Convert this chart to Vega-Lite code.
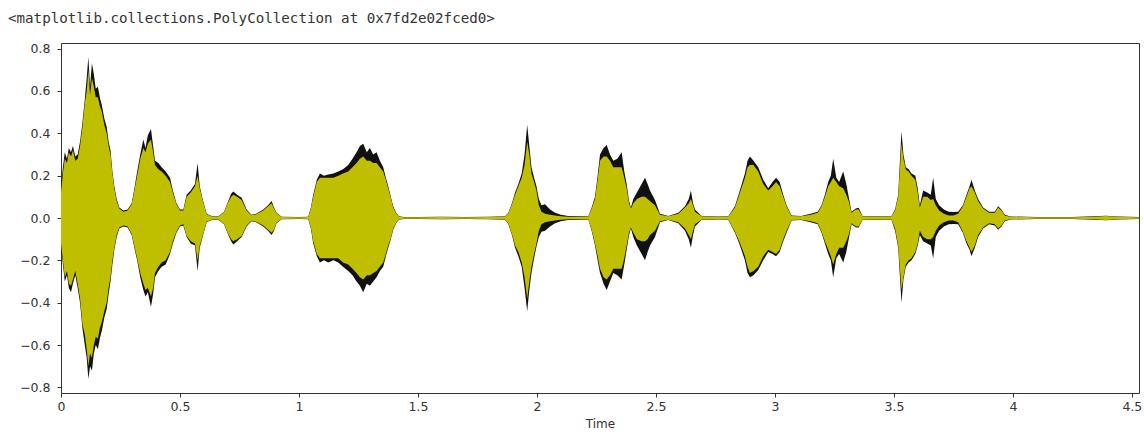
{
  "$schema": "https://vega.github.io/schema/vega-lite/v6.json",
  "autosize": {"type": "none"},
  "padding": {"left": 61, "top": 43, "right": 5, "bottom": 39},
  "width": 1078,
  "height": 350,
  "background": "white",
  "config": {
    "view": {"stroke": "#333333", "strokeWidth": 1},
    "axis": {
      "domain": false,
      "grid": false,
      "tickColor": "#333333",
      "tickSize": 4,
      "labelFont": "DejaVu Sans",
      "labelFontSize": 12.5,
      "labelColor": "#333333",
      "titleFont": "DejaVu Sans",
      "titleFontSize": 12,
      "titleFontWeight": "normal",
      "titleColor": "#333333"
    }
  },
  "title": {
    "text": "<matplotlib.collections.PolyCollection at 0x7fd2e02fced0>",
    "anchor": "start",
    "frame": "group",
    "font": "DejaVu Sans Mono",
    "fontSize": 14.2,
    "fontWeight": "normal",
    "color": "#333333",
    "baseline": "alphabetic",
    "dx": -53,
    "offset": 5
  },
  "data": {
    "values": [
      {"t": 0.000, "top": 0.15, "bot": -0.14, "ytop": 0.12, "ybot": -0.12},
      {"t": 0.008, "top": 0.24, "bot": -0.22, "ytop": 0.21, "ybot": -0.20},
      {"t": 0.016, "top": 0.31, "bot": -0.30, "ytop": 0.28, "ybot": -0.28},
      {"t": 0.025, "top": 0.28, "bot": -0.27, "ytop": 0.26, "ybot": -0.25},
      {"t": 0.033, "top": 0.33, "bot": -0.33, "ytop": 0.31, "ybot": -0.31},
      {"t": 0.042, "top": 0.31, "bot": -0.35, "ytop": 0.29, "ybot": -0.32},
      {"t": 0.050, "top": 0.34, "bot": -0.31, "ytop": 0.32, "ybot": -0.29},
      {"t": 0.060, "top": 0.29, "bot": -0.27, "ytop": 0.27, "ybot": -0.25},
      {"t": 0.070, "top": 0.30, "bot": -0.33, "ytop": 0.28, "ybot": -0.31},
      {"t": 0.080, "top": 0.36, "bot": -0.40, "ytop": 0.34, "ybot": -0.38},
      {"t": 0.090, "top": 0.45, "bot": -0.52, "ytop": 0.43, "ybot": -0.50},
      {"t": 0.100, "top": 0.56, "bot": -0.60, "ytop": 0.54, "ybot": -0.55},
      {"t": 0.108, "top": 0.66, "bot": -0.66, "ytop": 0.60, "ybot": -0.62},
      {"t": 0.115, "top": 0.76, "bot": -0.76, "ytop": 0.70, "ybot": -0.70},
      {"t": 0.122, "top": 0.62, "bot": -0.70, "ytop": 0.58, "ybot": -0.64},
      {"t": 0.130, "top": 0.73, "bot": -0.72, "ytop": 0.66, "ybot": -0.66},
      {"t": 0.138, "top": 0.68, "bot": -0.64, "ytop": 0.62, "ybot": -0.60},
      {"t": 0.146, "top": 0.61, "bot": -0.60, "ytop": 0.57, "ybot": -0.56},
      {"t": 0.155, "top": 0.62, "bot": -0.62, "ytop": 0.57, "ybot": -0.57},
      {"t": 0.163, "top": 0.57, "bot": -0.57, "ytop": 0.53, "ybot": -0.52},
      {"t": 0.172, "top": 0.53, "bot": -0.53, "ytop": 0.50, "ybot": -0.49},
      {"t": 0.182, "top": 0.47, "bot": -0.47, "ytop": 0.44, "ybot": -0.44},
      {"t": 0.192, "top": 0.43, "bot": -0.43, "ytop": 0.40, "ybot": -0.40},
      {"t": 0.200, "top": 0.36, "bot": -0.36, "ytop": 0.34, "ybot": -0.33},
      {"t": 0.208, "top": 0.32, "bot": -0.30, "ytop": 0.30, "ybot": -0.28},
      {"t": 0.216, "top": 0.22, "bot": -0.22, "ytop": 0.21, "ybot": -0.20},
      {"t": 0.224, "top": 0.15, "bot": -0.15, "ytop": 0.14, "ybot": -0.14},
      {"t": 0.234, "top": 0.09, "bot": -0.09, "ytop": 0.08, "ybot": -0.08},
      {"t": 0.245, "top": 0.05, "bot": -0.05, "ytop": 0.045, "ybot": -0.045},
      {"t": 0.262, "top": 0.035, "bot": -0.04, "ytop": 0.03, "ybot": -0.035},
      {"t": 0.280, "top": 0.04, "bot": -0.045, "ytop": 0.035, "ybot": -0.04},
      {"t": 0.297, "top": 0.07, "bot": -0.08, "ytop": 0.065, "ybot": -0.075},
      {"t": 0.310, "top": 0.15, "bot": -0.15, "ytop": 0.14, "ybot": -0.14},
      {"t": 0.320, "top": 0.22, "bot": -0.20, "ytop": 0.20, "ybot": -0.19},
      {"t": 0.333, "top": 0.30, "bot": -0.28, "ytop": 0.28, "ybot": -0.26},
      {"t": 0.346, "top": 0.37, "bot": -0.34, "ytop": 0.33, "ybot": -0.31},
      {"t": 0.355, "top": 0.33, "bot": -0.37, "ytop": 0.31, "ybot": -0.34},
      {"t": 0.365, "top": 0.39, "bot": -0.35, "ytop": 0.35, "ybot": -0.33},
      {"t": 0.378, "top": 0.42, "bot": -0.42, "ytop": 0.37, "ybot": -0.37},
      {"t": 0.387, "top": 0.34, "bot": -0.36, "ytop": 0.31, "ybot": -0.33},
      {"t": 0.395, "top": 0.27, "bot": -0.28, "ytop": 0.25, "ybot": -0.26},
      {"t": 0.409, "top": 0.26, "bot": -0.25, "ytop": 0.23, "ybot": -0.23},
      {"t": 0.423, "top": 0.24, "bot": -0.23, "ytop": 0.22, "ybot": -0.21},
      {"t": 0.440, "top": 0.22, "bot": -0.22, "ytop": 0.20, "ybot": -0.20},
      {"t": 0.458, "top": 0.19, "bot": -0.17, "ytop": 0.17, "ybot": -0.16},
      {"t": 0.470, "top": 0.13, "bot": -0.12, "ytop": 0.12, "ybot": -0.11},
      {"t": 0.485, "top": 0.07, "bot": -0.07, "ytop": 0.065, "ybot": -0.065},
      {"t": 0.500, "top": 0.04, "bot": -0.04, "ytop": 0.035, "ybot": -0.035},
      {"t": 0.514, "top": 0.04, "bot": -0.035, "ytop": 0.035, "ybot": -0.03},
      {"t": 0.528, "top": 0.11, "bot": -0.09, "ytop": 0.10, "ybot": -0.085},
      {"t": 0.545, "top": 0.13, "bot": -0.12, "ytop": 0.12, "ybot": -0.11},
      {"t": 0.563, "top": 0.16, "bot": -0.13, "ytop": 0.15, "ybot": -0.12},
      {"t": 0.574, "top": 0.26, "bot": -0.25, "ytop": 0.20, "ybot": -0.20},
      {"t": 0.583, "top": 0.15, "bot": -0.14, "ytop": 0.14, "ybot": -0.13},
      {"t": 0.595, "top": 0.09, "bot": -0.09, "ytop": 0.085, "ybot": -0.085},
      {"t": 0.612, "top": 0.02, "bot": -0.02, "ytop": 0.018, "ybot": -0.018},
      {"t": 0.635, "top": 0.008, "bot": -0.008, "ytop": 0.007, "ybot": -0.007},
      {"t": 0.661, "top": 0.008, "bot": -0.008, "ytop": 0.007, "ybot": -0.007},
      {"t": 0.685, "top": 0.03, "bot": -0.03, "ytop": 0.028, "ybot": -0.028},
      {"t": 0.703, "top": 0.08, "bot": -0.08, "ytop": 0.075, "ybot": -0.075},
      {"t": 0.715, "top": 0.115, "bot": -0.11, "ytop": 0.10, "ybot": -0.10},
      {"t": 0.724, "top": 0.125, "bot": -0.125, "ytop": 0.11, "ybot": -0.11},
      {"t": 0.740, "top": 0.11, "bot": -0.11, "ytop": 0.10, "ybot": -0.10},
      {"t": 0.759, "top": 0.095, "bot": -0.09, "ytop": 0.085, "ybot": -0.085},
      {"t": 0.780, "top": 0.04, "bot": -0.04, "ytop": 0.035, "ybot": -0.035},
      {"t": 0.800, "top": 0.015, "bot": -0.015, "ytop": 0.013, "ybot": -0.013},
      {"t": 0.820, "top": 0.02, "bot": -0.02, "ytop": 0.018, "ybot": -0.018},
      {"t": 0.850, "top": 0.04, "bot": -0.04, "ytop": 0.035, "ybot": -0.035},
      {"t": 0.870, "top": 0.06, "bot": -0.06, "ytop": 0.055, "ybot": -0.055},
      {"t": 0.885, "top": 0.08, "bot": -0.08, "ytop": 0.07, "ybot": -0.07},
      {"t": 0.895, "top": 0.05, "bot": -0.06, "ytop": 0.045, "ybot": -0.055},
      {"t": 0.906, "top": 0.025, "bot": -0.025, "ytop": 0.022, "ybot": -0.022},
      {"t": 0.927, "top": 0.006, "bot": -0.006, "ytop": 0.005, "ybot": -0.005},
      {"t": 1.000, "top": 0.005, "bot": -0.005, "ytop": 0.004, "ybot": -0.004},
      {"t": 1.039, "top": 0.006, "bot": -0.006, "ytop": 0.005, "ybot": -0.005},
      {"t": 1.050, "top": 0.05, "bot": -0.05, "ytop": 0.045, "ybot": -0.045},
      {"t": 1.060, "top": 0.11, "bot": -0.12, "ytop": 0.10, "ybot": -0.11},
      {"t": 1.075, "top": 0.18, "bot": -0.18, "ytop": 0.17, "ybot": -0.17},
      {"t": 1.088, "top": 0.21, "bot": -0.21, "ytop": 0.19, "ybot": -0.19},
      {"t": 1.105, "top": 0.20, "bot": -0.20, "ytop": 0.19, "ybot": -0.19},
      {"t": 1.123, "top": 0.205, "bot": -0.21, "ytop": 0.19, "ybot": -0.19},
      {"t": 1.145, "top": 0.21, "bot": -0.20, "ytop": 0.19, "ybot": -0.19},
      {"t": 1.165, "top": 0.22, "bot": -0.21, "ytop": 0.20, "ybot": -0.19},
      {"t": 1.185, "top": 0.23, "bot": -0.23, "ytop": 0.21, "ybot": -0.21},
      {"t": 1.207, "top": 0.25, "bot": -0.25, "ytop": 0.22, "ybot": -0.22},
      {"t": 1.225, "top": 0.28, "bot": -0.27, "ytop": 0.24, "ybot": -0.24},
      {"t": 1.242, "top": 0.31, "bot": -0.30, "ytop": 0.26, "ybot": -0.26},
      {"t": 1.256, "top": 0.34, "bot": -0.32, "ytop": 0.28, "ybot": -0.28},
      {"t": 1.270, "top": 0.35, "bot": -0.35, "ytop": 0.29, "ybot": -0.29},
      {"t": 1.285, "top": 0.31, "bot": -0.31, "ytop": 0.27, "ybot": -0.27},
      {"t": 1.298, "top": 0.33, "bot": -0.32, "ytop": 0.27, "ybot": -0.27},
      {"t": 1.312, "top": 0.30, "bot": -0.30, "ytop": 0.26, "ybot": -0.26},
      {"t": 1.326, "top": 0.31, "bot": -0.28, "ytop": 0.26, "ybot": -0.25},
      {"t": 1.340, "top": 0.27, "bot": -0.25, "ytop": 0.24, "ybot": -0.23},
      {"t": 1.354, "top": 0.24, "bot": -0.23, "ytop": 0.22, "ybot": -0.21},
      {"t": 1.365, "top": 0.19, "bot": -0.18, "ytop": 0.18, "ybot": -0.17},
      {"t": 1.375, "top": 0.15, "bot": -0.14, "ytop": 0.14, "ybot": -0.13},
      {"t": 1.386, "top": 0.10, "bot": -0.10, "ytop": 0.095, "ybot": -0.095},
      {"t": 1.396, "top": 0.055, "bot": -0.055, "ytop": 0.05, "ybot": -0.05},
      {"t": 1.408, "top": 0.025, "bot": -0.025, "ytop": 0.022, "ybot": -0.022},
      {"t": 1.420, "top": 0.008, "bot": -0.008, "ytop": 0.007, "ybot": -0.007},
      {"t": 1.440, "top": 0.005, "bot": -0.005, "ytop": 0.004, "ybot": -0.004},
      {"t": 1.500, "top": 0.005, "bot": -0.005, "ytop": 0.004, "ybot": -0.004},
      {"t": 1.600, "top": 0.006, "bot": -0.006, "ytop": 0.005, "ybot": -0.005},
      {"t": 1.700, "top": 0.005, "bot": -0.005, "ytop": 0.004, "ybot": -0.004},
      {"t": 1.800, "top": 0.006, "bot": -0.006, "ytop": 0.005, "ybot": -0.005},
      {"t": 1.866, "top": 0.008, "bot": -0.008, "ytop": 0.007, "ybot": -0.007},
      {"t": 1.880, "top": 0.025, "bot": -0.03, "ytop": 0.022, "ybot": -0.027},
      {"t": 1.895, "top": 0.07, "bot": -0.08, "ytop": 0.065, "ybot": -0.075},
      {"t": 1.908, "top": 0.12, "bot": -0.14, "ytop": 0.11, "ybot": -0.13},
      {"t": 1.922, "top": 0.16, "bot": -0.18, "ytop": 0.15, "ybot": -0.16},
      {"t": 1.936, "top": 0.21, "bot": -0.23, "ytop": 0.19, "ybot": -0.21},
      {"t": 1.948, "top": 0.30, "bot": -0.33, "ytop": 0.25, "ybot": -0.28},
      {"t": 1.959, "top": 0.44, "bot": -0.44, "ytop": 0.36, "ybot": -0.38},
      {"t": 1.968, "top": 0.34, "bot": -0.34, "ytop": 0.30, "ybot": -0.30},
      {"t": 1.977, "top": 0.24, "bot": -0.26, "ytop": 0.21, "ybot": -0.23},
      {"t": 1.988, "top": 0.19, "bot": -0.19, "ytop": 0.17, "ybot": -0.17},
      {"t": 1.998, "top": 0.15, "bot": -0.135, "ytop": 0.13, "ybot": -0.12},
      {"t": 2.008, "top": 0.09, "bot": -0.09, "ytop": 0.06, "ybot": -0.06},
      {"t": 2.019, "top": 0.06, "bot": -0.065, "ytop": 0.03, "ybot": -0.03},
      {"t": 2.034, "top": 0.065, "bot": -0.06, "ytop": 0.02, "ybot": -0.02},
      {"t": 2.055, "top": 0.04, "bot": -0.04, "ytop": 0.015, "ybot": -0.015},
      {"t": 2.076, "top": 0.025, "bot": -0.025, "ytop": 0.012, "ybot": -0.012},
      {"t": 2.100, "top": 0.015, "bot": -0.015, "ytop": 0.008, "ybot": -0.008},
      {"t": 2.131, "top": 0.01, "bot": -0.01, "ytop": 0.006, "ybot": -0.006},
      {"t": 2.190, "top": 0.008, "bot": -0.008, "ytop": 0.006, "ybot": -0.006},
      {"t": 2.216, "top": 0.008, "bot": -0.008, "ytop": 0.007, "ybot": -0.007},
      {"t": 2.230, "top": 0.05, "bot": -0.06, "ytop": 0.045, "ybot": -0.055},
      {"t": 2.244, "top": 0.10, "bot": -0.13, "ytop": 0.09, "ybot": -0.12},
      {"t": 2.255, "top": 0.20, "bot": -0.20, "ytop": 0.18, "ybot": -0.18},
      {"t": 2.265, "top": 0.30, "bot": -0.26, "ytop": 0.27, "ybot": -0.24},
      {"t": 2.280, "top": 0.33, "bot": -0.31, "ytop": 0.29, "ybot": -0.28},
      {"t": 2.293, "top": 0.345, "bot": -0.34, "ytop": 0.29, "ybot": -0.29},
      {"t": 2.307, "top": 0.30, "bot": -0.30, "ytop": 0.27, "ybot": -0.27},
      {"t": 2.321, "top": 0.27, "bot": -0.26, "ytop": 0.24, "ybot": -0.24},
      {"t": 2.338, "top": 0.28, "bot": -0.27, "ytop": 0.24, "ybot": -0.24},
      {"t": 2.356, "top": 0.31, "bot": -0.29, "ytop": 0.24, "ybot": -0.24},
      {"t": 2.367, "top": 0.22, "bot": -0.22, "ytop": 0.19, "ybot": -0.19},
      {"t": 2.377, "top": 0.16, "bot": -0.15, "ytop": 0.14, "ybot": -0.13},
      {"t": 2.387, "top": 0.08, "bot": -0.08, "ytop": 0.07, "ybot": -0.07},
      {"t": 2.395, "top": 0.05, "bot": -0.05, "ytop": 0.045, "ybot": -0.045},
      {"t": 2.405, "top": 0.09, "bot": -0.09, "ytop": 0.07, "ybot": -0.07},
      {"t": 2.420, "top": 0.12, "bot": -0.13, "ytop": 0.09, "ybot": -0.10},
      {"t": 2.440, "top": 0.16, "bot": -0.17, "ytop": 0.10, "ybot": -0.11},
      {"t": 2.454, "top": 0.19, "bot": -0.20, "ytop": 0.10, "ybot": -0.11},
      {"t": 2.465, "top": 0.16, "bot": -0.16, "ytop": 0.09, "ybot": -0.10},
      {"t": 2.475, "top": 0.13, "bot": -0.13, "ytop": 0.08, "ybot": -0.08},
      {"t": 2.496, "top": 0.085, "bot": -0.09, "ytop": 0.06, "ybot": -0.06},
      {"t": 2.517, "top": 0.02, "bot": -0.02, "ytop": 0.015, "ybot": -0.015},
      {"t": 2.552, "top": 0.01, "bot": -0.01, "ytop": 0.008, "ybot": -0.008},
      {"t": 2.594, "top": 0.025, "bot": -0.025, "ytop": 0.02, "ybot": -0.02},
      {"t": 2.622, "top": 0.055, "bot": -0.06, "ytop": 0.05, "ybot": -0.05},
      {"t": 2.638, "top": 0.09, "bot": -0.10, "ytop": 0.07, "ybot": -0.08},
      {"t": 2.647, "top": 0.13, "bot": -0.14, "ytop": 0.09, "ybot": -0.10},
      {"t": 2.656, "top": 0.07, "bot": -0.08, "ytop": 0.06, "ybot": -0.06},
      {"t": 2.664, "top": 0.04, "bot": -0.04, "ytop": 0.03, "ybot": -0.03},
      {"t": 2.692, "top": 0.01, "bot": -0.01, "ytop": 0.008, "ybot": -0.008},
      {"t": 2.760, "top": 0.007, "bot": -0.007, "ytop": 0.006, "ybot": -0.006},
      {"t": 2.804, "top": 0.008, "bot": -0.008, "ytop": 0.007, "ybot": -0.007},
      {"t": 2.832, "top": 0.055, "bot": -0.07, "ytop": 0.05, "ybot": -0.065},
      {"t": 2.850, "top": 0.12, "bot": -0.12, "ytop": 0.11, "ybot": -0.11},
      {"t": 2.874, "top": 0.21, "bot": -0.20, "ytop": 0.19, "ybot": -0.18},
      {"t": 2.885, "top": 0.27, "bot": -0.26, "ytop": 0.24, "ybot": -0.23},
      {"t": 2.895, "top": 0.29, "bot": -0.28, "ytop": 0.25, "ybot": -0.26},
      {"t": 2.910, "top": 0.27, "bot": -0.27, "ytop": 0.25, "ybot": -0.25},
      {"t": 2.930, "top": 0.24, "bot": -0.245, "ytop": 0.22, "ybot": -0.23},
      {"t": 2.951, "top": 0.18, "bot": -0.20, "ytop": 0.16, "ybot": -0.18},
      {"t": 2.972, "top": 0.14, "bot": -0.16, "ytop": 0.13, "ybot": -0.15},
      {"t": 2.990, "top": 0.17, "bot": -0.17, "ytop": 0.15, "ybot": -0.16},
      {"t": 3.005, "top": 0.19, "bot": -0.18, "ytop": 0.17, "ybot": -0.17},
      {"t": 3.020, "top": 0.17, "bot": -0.16, "ytop": 0.15, "ybot": -0.15},
      {"t": 3.035, "top": 0.11, "bot": -0.11, "ytop": 0.10, "ybot": -0.10},
      {"t": 3.049, "top": 0.06, "bot": -0.07, "ytop": 0.055, "ybot": -0.06},
      {"t": 3.070, "top": 0.012, "bot": -0.012, "ytop": 0.01, "ybot": -0.01},
      {"t": 3.110, "top": 0.01, "bot": -0.01, "ytop": 0.008, "ybot": -0.008},
      {"t": 3.150, "top": 0.02, "bot": -0.02, "ytop": 0.015, "ybot": -0.015},
      {"t": 3.180, "top": 0.03, "bot": -0.03, "ytop": 0.025, "ybot": -0.025},
      {"t": 3.196, "top": 0.06, "bot": -0.07, "ytop": 0.055, "ybot": -0.065},
      {"t": 3.210, "top": 0.11, "bot": -0.12, "ytop": 0.10, "ybot": -0.11},
      {"t": 3.224, "top": 0.17, "bot": -0.17, "ytop": 0.15, "ybot": -0.15},
      {"t": 3.235, "top": 0.20, "bot": -0.20, "ytop": 0.17, "ybot": -0.18},
      {"t": 3.245, "top": 0.28, "bot": -0.28, "ytop": 0.19, "ybot": -0.22},
      {"t": 3.258, "top": 0.19, "bot": -0.19, "ytop": 0.17, "ybot": -0.17},
      {"t": 3.270, "top": 0.17, "bot": -0.17, "ytop": 0.15, "ybot": -0.14},
      {"t": 3.287, "top": 0.22, "bot": -0.21, "ytop": 0.14, "ybot": -0.14},
      {"t": 3.300, "top": 0.16, "bot": -0.16, "ytop": 0.11, "ybot": -0.11},
      {"t": 3.310, "top": 0.10, "bot": -0.10, "ytop": 0.08, "ybot": -0.08},
      {"t": 3.322, "top": 0.03, "bot": -0.03, "ytop": 0.025, "ybot": -0.025},
      {"t": 3.340, "top": 0.045, "bot": -0.045, "ytop": 0.04, "ybot": -0.04},
      {"t": 3.352, "top": 0.048, "bot": -0.045, "ytop": 0.04, "ybot": -0.04},
      {"t": 3.368, "top": 0.01, "bot": -0.01, "ytop": 0.008, "ybot": -0.008},
      {"t": 3.420, "top": 0.008, "bot": -0.008, "ytop": 0.007, "ybot": -0.007},
      {"t": 3.490, "top": 0.01, "bot": -0.01, "ytop": 0.008, "ybot": -0.008},
      {"t": 3.505, "top": 0.04, "bot": -0.06, "ytop": 0.035, "ybot": -0.05},
      {"t": 3.518, "top": 0.11, "bot": -0.14, "ytop": 0.10, "ybot": -0.13},
      {"t": 3.532, "top": 0.41, "bot": -0.40, "ytop": 0.35, "ybot": -0.34},
      {"t": 3.540, "top": 0.30, "bot": -0.29, "ytop": 0.28, "ybot": -0.28},
      {"t": 3.550, "top": 0.24, "bot": -0.23, "ytop": 0.23, "ybot": -0.22},
      {"t": 3.562, "top": 0.23, "bot": -0.21, "ytop": 0.22, "ybot": -0.20},
      {"t": 3.574, "top": 0.21, "bot": -0.20, "ytop": 0.20, "ybot": -0.19},
      {"t": 3.590, "top": 0.20, "bot": -0.17, "ytop": 0.18, "ybot": -0.16},
      {"t": 3.600, "top": 0.14, "bot": -0.13, "ytop": 0.12, "ybot": -0.12},
      {"t": 3.609, "top": 0.06, "bot": -0.08, "ytop": 0.05, "ybot": -0.06},
      {"t": 3.623, "top": 0.13, "bot": -0.11, "ytop": 0.10, "ybot": -0.09},
      {"t": 3.640, "top": 0.12, "bot": -0.12, "ytop": 0.10, "ybot": -0.10},
      {"t": 3.655, "top": 0.11, "bot": -0.13, "ytop": 0.085, "ybot": -0.10},
      {"t": 3.665, "top": 0.19, "bot": -0.19, "ytop": 0.09, "ybot": -0.09},
      {"t": 3.676, "top": 0.09, "bot": -0.09, "ytop": 0.06, "ybot": -0.06},
      {"t": 3.690, "top": 0.06, "bot": -0.06, "ytop": 0.035, "ybot": -0.035},
      {"t": 3.710, "top": 0.04, "bot": -0.04, "ytop": 0.02, "ybot": -0.02},
      {"t": 3.730, "top": 0.03, "bot": -0.03, "ytop": 0.012, "ybot": -0.012},
      {"t": 3.750, "top": 0.028, "bot": -0.028, "ytop": 0.012, "ybot": -0.012},
      {"t": 3.770, "top": 0.03, "bot": -0.03, "ytop": 0.02, "ybot": -0.02},
      {"t": 3.790, "top": 0.06, "bot": -0.07, "ytop": 0.055, "ybot": -0.065},
      {"t": 3.805, "top": 0.11, "bot": -0.12, "ytop": 0.10, "ybot": -0.11},
      {"t": 3.818, "top": 0.15, "bot": -0.15, "ytop": 0.14, "ybot": -0.14},
      {"t": 3.826, "top": 0.18, "bot": -0.18, "ytop": 0.15, "ybot": -0.16},
      {"t": 3.840, "top": 0.13, "bot": -0.14, "ytop": 0.12, "ybot": -0.13},
      {"t": 3.854, "top": 0.09, "bot": -0.09, "ytop": 0.08, "ybot": -0.08},
      {"t": 3.875, "top": 0.05, "bot": -0.05, "ytop": 0.045, "ybot": -0.045},
      {"t": 3.900, "top": 0.03, "bot": -0.03, "ytop": 0.025, "ybot": -0.025},
      {"t": 3.924, "top": 0.03, "bot": -0.035, "ytop": 0.025, "ybot": -0.03},
      {"t": 3.938, "top": 0.055, "bot": -0.055, "ytop": 0.05, "ybot": -0.05},
      {"t": 3.952, "top": 0.04, "bot": -0.04, "ytop": 0.035, "ybot": -0.035},
      {"t": 3.966, "top": 0.015, "bot": -0.015, "ytop": 0.012, "ybot": -0.012},
      {"t": 3.990, "top": 0.007, "bot": -0.007, "ytop": 0.006, "ybot": -0.006},
      {"t": 4.100, "top": 0.005, "bot": -0.005, "ytop": 0.004, "ybot": -0.004},
      {"t": 4.250, "top": 0.005, "bot": -0.005, "ytop": 0.004, "ybot": -0.004},
      {"t": 4.340, "top": 0.008, "bot": -0.008, "ytop": 0.006, "ybot": -0.006},
      {"t": 4.390, "top": 0.011, "bot": -0.011, "ytop": 0.009, "ybot": -0.009},
      {"t": 4.440, "top": 0.007, "bot": -0.007, "ytop": 0.006, "ybot": -0.006},
      {"t": 4.530, "top": 0.005, "bot": -0.005, "ytop": 0.004, "ybot": -0.004}
    ]
  },
  "encoding": {
    "x": {
      "field": "t",
      "type": "quantitative",
      "scale": {"domain": [0, 4.53], "nice": false, "zero": false},
      "axis": {
        "title": "Time",
        "values": [0, 0.5, 1, 1.5, 2, 2.5, 3, 3.5, 4, 4.5],
        "format": "~g",
        "labelPadding": 3,
        "titlePadding": 6,
        "labelFlush": false
      }
    }
  },
  "layer": [
    {
      "mark": {"type": "area", "color": "#111111", "interpolate": "linear"},
      "encoding": {
        "y": {
          "field": "top",
          "type": "quantitative",
          "scale": {"domain": [-0.826, 0.826], "nice": false, "zero": false},
          "axis": {
            "title": null,
            "values": [-0.8, -0.6, -0.4, -0.2, 0, 0.2, 0.4, 0.6, 0.8],
            "format": ".1f",
            "labelPadding": 7
          }
        },
        "y2": {"field": "bot"}
      }
    },
    {
      "mark": {"type": "area", "color": "#bfbf00", "interpolate": "linear"},
      "encoding": {
        "y": {"field": "ytop", "type": "quantitative"},
        "y2": {"field": "ybot"}
      }
    }
  ]
}
